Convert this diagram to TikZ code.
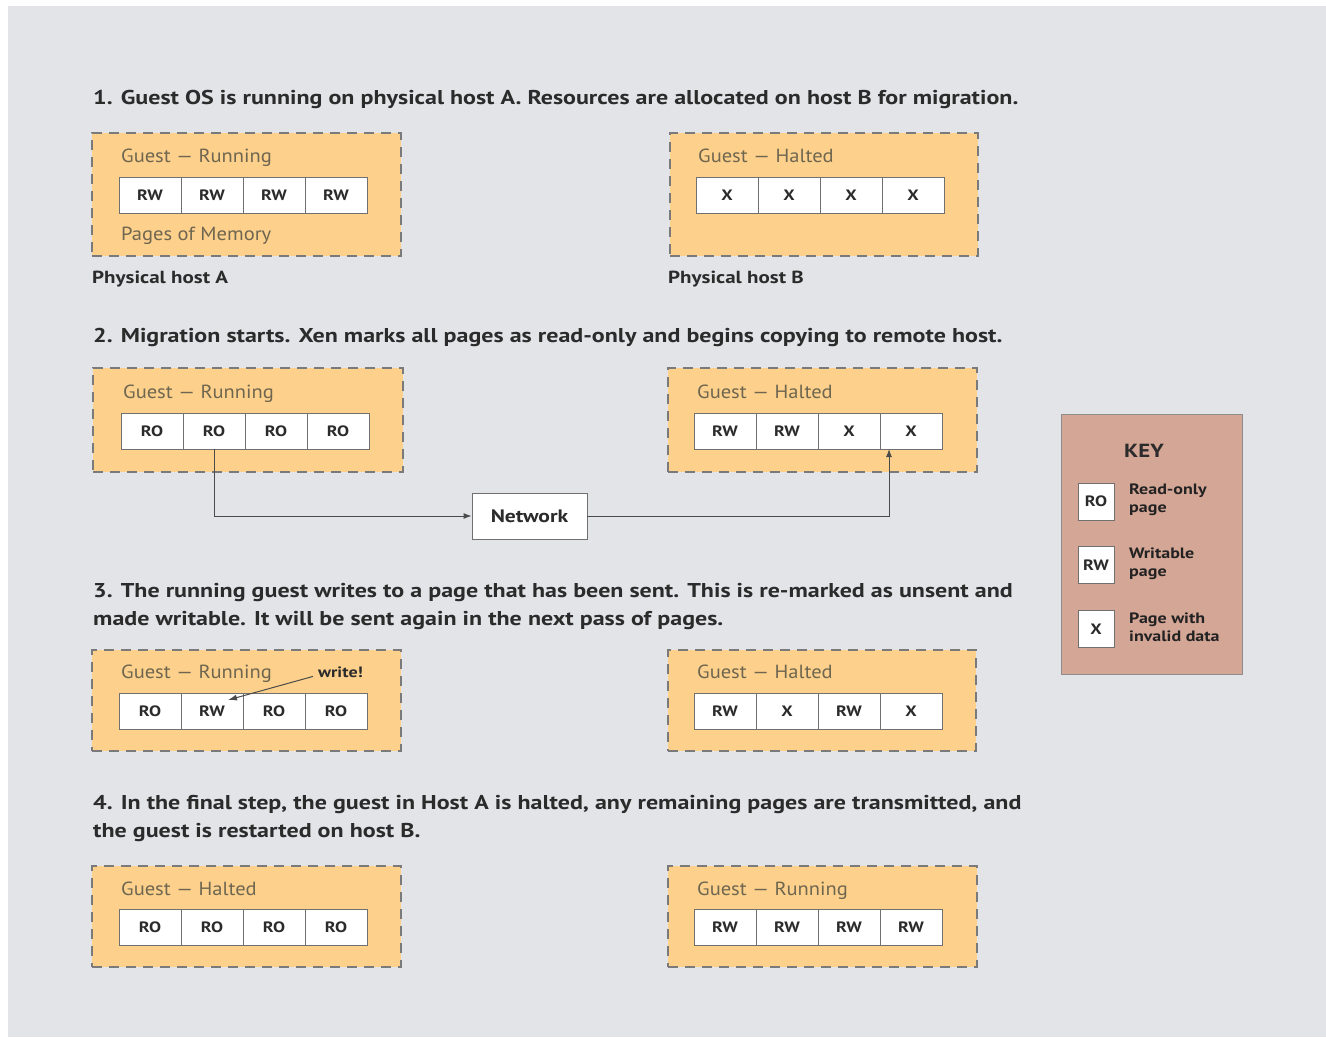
\documentclass[tikz,border=0pt]{standalone}
\usepackage{fontspec}
\setmainfont{PT Sans}[FakeStretch=1.08]
\newfontfamily\sbf{PT Sans}[FakeStretch=1.2]
\usetikzlibrary{arrows.meta}
\definecolor{bg}{HTML}{E3E4E8}
\definecolor{hostfill}{HTML}{FDD08B}
\definecolor{dashc}{HTML}{7A7A7A}
\definecolor{keyfill}{HTML}{D4A696}
\definecolor{txt}{HTML}{2B2B2B}
\definecolor{guesttxt}{HTML}{6E6650}
\definecolor{celldraw}{HTML}{707070}
\newcommand\fsz[1]{\fontsize{#1}{#1}\selectfont}
\newcommand\pagerow[7]{%
  \node[cell] (#1c1) at (#2+31,#3) {#4};
  \node[cell] (#1c2) at (#2+93,#3) {#5};
  \node[cell] (#1c3) at (#2+155,#3) {#6};
  \node[cell] (#1c4) at (#2+217,#3) {#7};
}
\tikzset{
  host/.style={draw=dashc, fill=hostfill, line width=1.3pt, dash pattern=on 10pt off 7pt, inner sep=0pt, outer sep=0pt},
  cell/.style={draw=celldraw, fill=white, line width=0.8pt, minimum width=62pt, minimum height=36pt, inner sep=0pt, outer sep=0pt, font=\sbf\fsz{15}\bfseries, text=txt},
  title/.style={anchor=base west, inner sep=0pt, font=\sbf\fsz{20}\bfseries, text=txt},
  guest/.style={anchor=base west, inner sep=0pt, font=\fsz{19}, text=guesttxt},
  hostlabel/.style={anchor=base west, inner sep=0pt, font=\sbf\fsz{17.5}\bfseries, text=txt},
  keylabel/.style={anchor=north west, inner sep=0pt, align=left, font=\sbf\fsz{15}\bfseries, text=txt!80!black},
  conn/.style={draw=txt!85, line width=1pt, -{Latex[length=8pt,width=6pt]}}
}
\begin{document}
\begin{tikzpicture}[x=1pt,y=-1pt]
\useasboundingbox (0,0) rectangle (1326,1037);
\fill[bg] (8,6) rectangle (1326,1037);

% ---------- Section 1
\node[title] (t1) at (93,104) {1. Guest OS is running on physical host A. Resources are allocated on host B for migration.};
\node[host, minimum width=309pt, minimum height=123pt] (hA1) at (246.5,194.5) {};
\node[host, minimum width=308pt, minimum height=123pt] (hB1) at (824,194.5) {};
\node[guest] (gA1) at (121,162) {Guest — Running};
\node[guest] (gB1) at (698,162) {Guest — Halted};
\pagerow{a1}{119}{195.5}{RW}{RW}{RW}{RW}
\pagerow{b1}{696}{195.5}{X}{X}{X}{X}
\node[guest] (pm) at (121,240) {Pages of Memory};
\node[hostlabel] (phA) at (92,283) {Physical host A};
\node[hostlabel] (phB) at (668,283) {Physical host B};

% ---------- Section 2
\node[title] (t2) at (93,342) {2. Migration starts. Xen marks all pages as read-only and begins copying to remote host.};
\node[host, minimum width=310pt, minimum height=104pt] (hA2) at (248,420) {};
\node[host, minimum width=309pt, minimum height=104pt] (hB2) at (822.5,420) {};
\node[guest] (gA2) at (123,398) {Guest — Running};
\node[guest] (gB2) at (697,398) {Guest — Halted};
\pagerow{a2}{121}{431}{RO}{RO}{RO}{RO}
\pagerow{b2}{694}{431}{RW}{RW}{X}{X}
\node[draw=celldraw, fill=white, line width=0.9pt, minimum width=115pt, minimum height=46pt, inner sep=0pt, font=\sbf\fsz{18}\bfseries, text=txt] (net) at (529.5,516) {Network};
\coordinate (bend) at ([xshift=9pt]b2c4.south west);
\draw[conn] (a2c2.south) |- (net.west);
\draw[conn] (net.east) -| (bend);

% ---------- Section 3
\node[title] (t3a) at (93,597) {3. The running guest writes to a page that has been sent. This is re-marked as unsent and};
\node[title] (t3b) at (93,625) {made writable. It will be sent again in the next pass of pages.};
\node[host, minimum width=309pt, minimum height=101pt] (hA3) at (246.5,700.5) {};
\node[host, minimum width=308pt, minimum height=101pt] (hB3) at (822,700.5) {};
\node[guest] (gA3) at (121,678) {Guest — Running};
\node[guest] (gB3) at (697,678) {Guest — Halted};
\pagerow{a3}{119}{711}{RO}{RW}{RO}{RO}
\pagerow{b3}{694}{711}{RW}{X}{RW}{X}
\node[anchor=base west, inner sep=0pt, font=\sbf\fsz{15}\bfseries, text=txt] (wr) at (318,677) {write!};
\coordinate (wtip) at ([xshift=-15pt,yshift=-7pt]a3c2.north east);
\draw[conn, -{Latex[length=9pt,width=6pt]}] ([xshift=-5pt,yshift=1pt]wr.south west) -- (wtip);

% ---------- Section 4
\node[title] (t4a) at (93,809) {4. In the final step, the guest in Host A is halted, any remaining pages are transmitted, and};
\node[title] (t4b) at (93,837) {the guest is restarted on host B.};
\node[host, minimum width=309pt, minimum height=101pt] (hA4) at (246.5,916.5) {};
\node[host, minimum width=309pt, minimum height=101pt] (hB4) at (822.5,916.5) {};
\node[guest] (gA4) at (121,895) {Guest — Halted};
\node[guest] (gB4) at (697,895) {Guest — Running};
\pagerow{a4}{119}{927}{RO}{RO}{RO}{RO}
\pagerow{b4}{694}{927}{RW}{RW}{RW}{RW}

% ---------- Key
\node[draw=celldraw!80, fill=keyfill, line width=1pt, minimum width=181pt, minimum height=260pt, inner sep=0pt] (key) at (1151.5,544) {};
\node[font=\sbf\fsz{19}\bfseries, text=txt, inner sep=0pt] (keyt) at (1144,451) {KEY};
\node[cell, minimum width=36pt, minimum height=37pt] (kro) at (1096,501.5) {RO};
\node[cell, minimum width=36pt, minimum height=37pt] (krw) at (1096,565) {RW};
\node[cell, minimum width=36pt, minimum height=37pt] (kx) at (1096,629) {X};
\node[keylabel] (lro) at (1129,484) {Read-only\\[3pt]page};
\node[keylabel] (lrw) at (1129,548) {Writable\\[3pt]page};
\node[keylabel] (lx) at (1129,613) {Page with\\[3pt]invalid data};
\end{tikzpicture}
\end{document}
